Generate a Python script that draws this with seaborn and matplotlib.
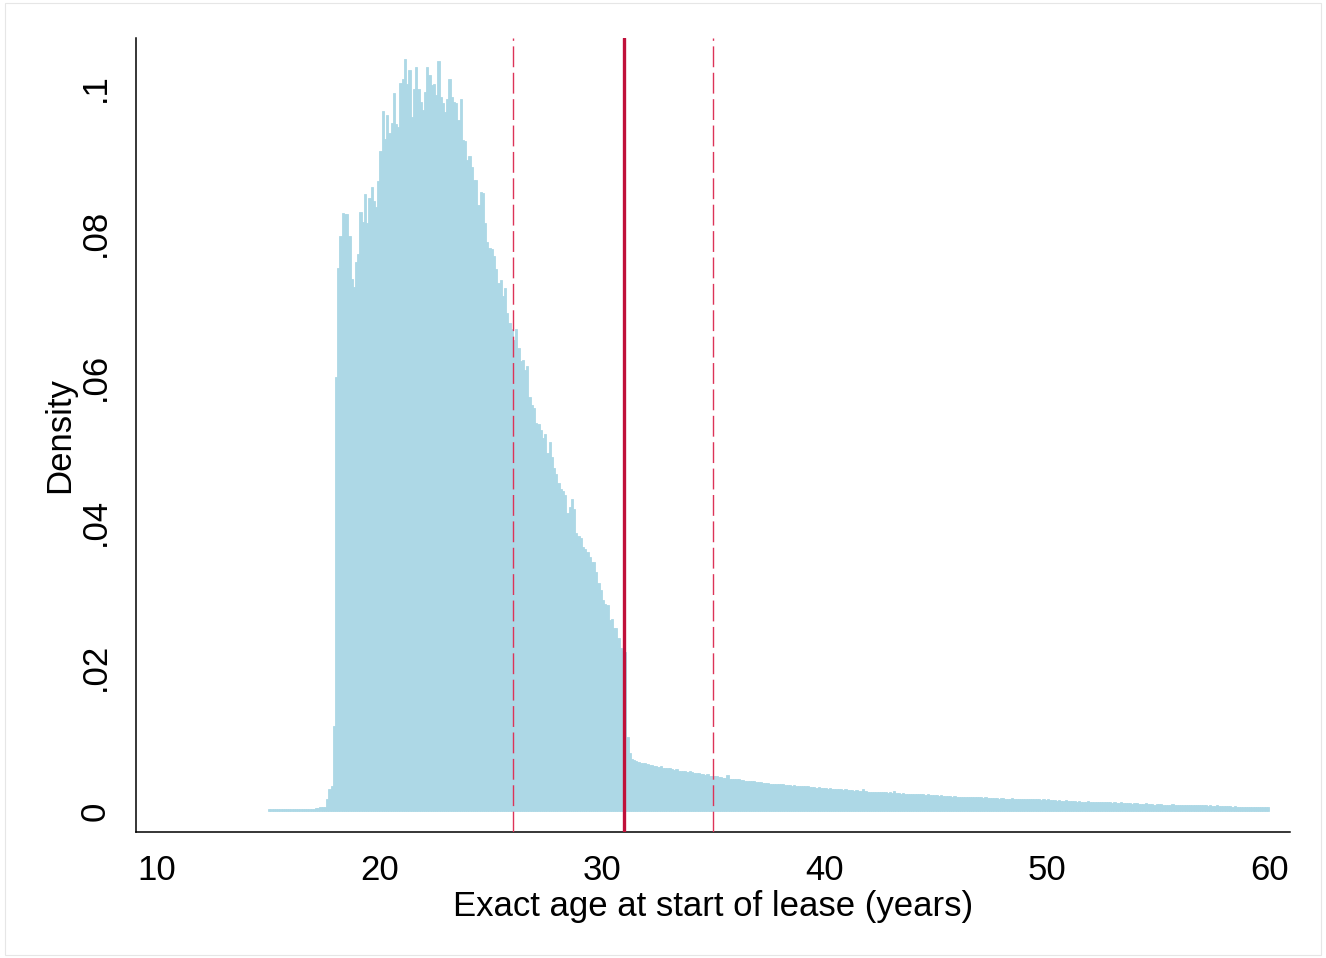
import numpy as np
import pandas as pd
import seaborn as sns
import matplotlib.pyplot as plt
from matplotlib.patches import Rectangle

# histogram of exact age at start of lease, bins of 0.1 year from 15 to 60
bin_width = 0.1
bin_start = np.round(np.arange(15.0, 60.0, bin_width), 1)

# densities, one row per year (10 bins each)
dens_15_19 = [
    .0003, .0003, .0003, .0003, .0003, .0003, .0003, .0003, .0003, .0003,
    .0003, .0003, .0003, .0003, .0003, .0003, .0003, .0003, .0003, .0003,
    .0003, .0004, .0004, .0005, .0005, .0006, .0017, .0030, .0034, .0117,
    .0600, .0751, .0795, .0827, .0825, .0826, .0795, .0736, .0725, .0759,
    .0770, .0828, .0814, .0853, .0813, .0848, .0863, .0844, .0836, .0871,
]
dens_20_24 = [
    .0913, .0968, .0930, .0963, .0938, .0952, .0993, .0950, .0946, .1007,
    .1013, .1040, .1005, .1025, .0960, .0999, .1029, .0999, .0980, .0970,
    .0995, .1029, .1018, .1004, .1006, .0990, .1037, .0988, .0979, .0967,
    .0985, .1012, .0988, .0981, .0979, .0956, .0985, .0928, .0926, .0900,
    .0906, .0891, .0873, .0872, .0838, .0856, .0855, .0813, .0787, .0778,
]
dens_25_29 = [
    .0777, .0767, .0749, .0730, .0735, .0712, .0724, .0689, .0675, .0666,
    .0652, .0667, .0640, .0622, .0624, .0610, .0615, .0573, .0561, .0558,
    .0537, .0535, .0527, .0516, .0522, .0495, .0511, .0490, .0474, .0466,
    .0454, .0445, .0443, .0437, .0412, .0420, .0432, .0418, .0385, .0380,
    .0378, .0365, .0363, .0358, .0352, .0344, .0344, .0330, .0315, .0305,
]
dens_30_34 = [
    .0292, .0287, .0285, .0264, .0266, .0253, .0253, .0240, .0225, .0222,
    .0220, .0102, .0080, .0072, .0071, .0069, .0068, .0067, .0066, .0066,
    .0065, .0063, .0064, .0062, .0062, .0061, .0062, .0060, .0059, .0060,
    .0059, .0058, .0057, .0058, .0056, .0056, .0055, .0056, .0054, .0055,
    .0054, .0053, .0052, .0053, .0051, .0051, .0050, .0051, .0049, .0049,
]
dens_35_39 = [
    .0048, .0048, .0047, .0047, .0046, .0046, .0050, .0045, .0045, .0044,
    .0044, .0044, .0043, .0043, .0042, .0042, .0042, .0041, .0041, .0040,
    .0040, .0040, .0039, .0039, .0039, .0038, .0038, .0038, .0037, .0037,
    .0037, .0037, .0036, .0036, .0036, .0035, .0036, .0035, .0034, .0035,
    .0034, .0034, .0034, .0033, .0033, .0033, .0032, .0033, .0032, .0032,
]
dens_40_44 = [
    .0032, .0031, .0032, .0031, .0030, .0031, .0030, .0030, .0029, .0030,
    .0029, .0029, .0029, .0028, .0029, .0028, .0028, .0030, .0028, .0027,
    .0027, .0027, .0027, .0026, .0027, .0026, .0026, .0026, .0025, .0026,
    .0025, .0028, .0025, .0025, .0024, .0025, .0024, .0024, .0024, .0024,
    .0023, .0024, .0023, .0023, .0023, .0022, .0023, .0022, .0022, .0022,
]
dens_45_49 = [
    .0022, .0021, .0022, .0021, .0021, .0021, .0021, .0020, .0021, .0020,
    .0020, .0020, .0020, .0019, .0020, .0019, .0019, .0019, .0020, .0019,
    .0019, .0018, .0019, .0018, .0018, .0018, .0018, .0018, .0017, .0018,
    .0018, .0017, .0017, .0017, .0018, .0017, .0017, .0016, .0017, .0017,
    .0016, .0016, .0017, .0016, .0016, .0016, .0016, .0015, .0016, .0015,
]
dens_50_54 = [
    .0016, .0015, .0015, .0015, .0014, .0015, .0014, .0014, .0015, .0014,
    .0014, .0014, .0014, .0013, .0014, .0013, .0013, .0013, .0014, .0013,
    .0013, .0013, .0012, .0013, .0012, .0012, .0012, .0012, .0012, .0011,
    .0012, .0011, .0011, .0012, .0011, .0011, .0011, .0011, .0010, .0011,
    .0011, .0010, .0010, .0010, .0011, .0010, .0010, .0010, .0009, .0010,
]
dens_55_59 = [
    .0010, .0010, .0009, .0009, .0009, .0009, .0010, .0009, .0009, .0008,
    .0009, .0008, .0009, .0008, .0008, .0008, .0008, .0009, .0008, .0008,
    .0008, .0008, .0007, .0008, .0007, .0007, .0008, .0007, .0007, .0007,
    .0007, .0007, .0007, .0006, .0007, .0006, .0006, .0006, .0006, .0006,
    .0006, .0006, .0005, .0006, .0005, .0005, .0005, .0005, .0005, .0005,
]

cutoff_lines = [26, 31, 35]
x_ticks = [10, 20, 30, 40, 50, 60]
y_ticks = [0, .02, .04, .06, .08, .1]
y_tick_labels = ['0', '.02', '.04', '.06', '.08', '.1']

density = (dens_15_19 + dens_20_24 + dens_25_29 + dens_30_34 + dens_35_39
           + dens_40_44 + dens_45_49 + dens_50_54 + dens_55_59)
df = pd.DataFrame({'age': bin_start + bin_width / 2, 'density': density})
edges = np.append(bin_start, 60.0).tolist()

sns.set_style('white')
plt.rcParams['font.family'] = ['Liberation Sans Narrow', 'Liberation Sans']
plt.rcParams['text.color'] = 'black'
plt.rcParams['axes.labelcolor'] = 'black'
plt.rcParams['xtick.color'] = 'black'
plt.rcParams['ytick.color'] = 'black'

fig = plt.figure(figsize=(13.26, 9.58), dpi=100)
ax = fig.add_axes([0.1026, 0.1315, 0.8703, 0.8288])

bar_col = '#add8e6'
sns.histplot(data=df, x='age', weights='density', bins=edges, stat='count',
             color=bar_col, alpha=1, edgecolor=bar_col, linewidth=0.6, ax=ax)

for v in cutoff_lines:
    if v == 31:
        ax.axvline(v, color='#c0103a', lw=2.4, zorder=3)
    else:
        ln = ax.axvline(v, color='#dc3358', lw=1.0, zorder=3)
        ln.set_dashes((15, 4))

ax.set_xlim(9.056, 60.94)
ax.set_ylim(-0.0029, 0.1069)
ax.set_xticks(x_ticks)
ax.set_yticks(y_ticks)
ax.set_yticklabels(y_tick_labels, rotation=90, va='center')

fs = 25
ax.tick_params(axis='both', direction='out', length=8.6, width=1.1,
               labelsize=fs, color='black', labelcolor='black')
ax.tick_params(axis='x', pad=7)
ax.tick_params(axis='y', pad=9)
for s in ['top', 'right']:
    ax.spines[s].set_visible(False)
for s in ['left', 'bottom']:
    ax.spines[s].set_color('black')
    ax.spines[s].set_linewidth(1.1)

ax.set_xlabel('Exact age at start of lease (years)', fontsize=fs, color='black')
ax.set_ylabel('Density', fontsize=fs, color='black')
ax.xaxis.set_label_coords(0.5, -0.073)
ax.yaxis.set_label_coords(-0.052, 0.5)

fig.patches.append(Rectangle((0.004, 0.003), 0.992, 0.994, transform=fig.transFigure,
                             fill=False, edgecolor='#e6e6e6', lw=0.8))

fig.savefig('out.png', dpi=100)
